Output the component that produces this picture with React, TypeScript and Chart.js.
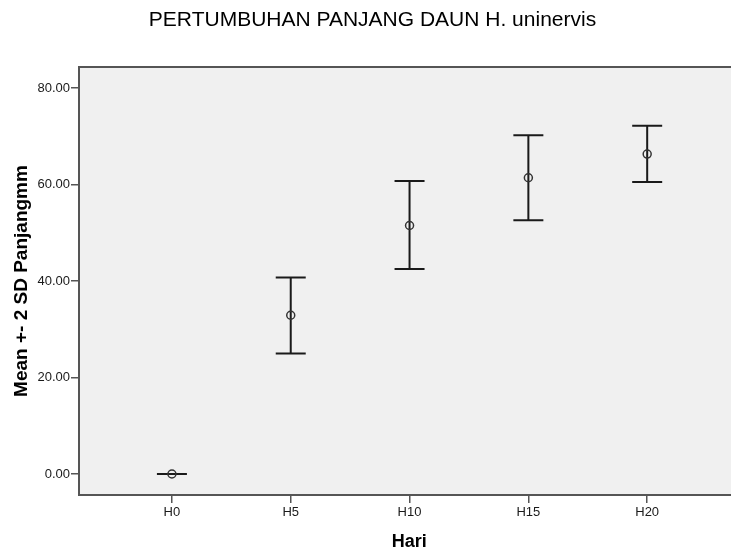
import React, { useEffect, useRef } from "react";
import { Chart, registerables } from "chart.js";

Chart.register(...registerables);

const categories = ["H0", "H5", "H10", "H15", "H20"];
const means = [0, 32.9, 51.5, 61.4, 66.3];
const lowerBounds = [0, 25.0, 42.5, 52.6, 60.5];
const upperBounds = [0, 40.7, 60.7, 70.2, 72.2];
const yTicks = [0, 20, 40, 60, 80];

const FONT = "'Liberation Sans', Arial, Helvetica, sans-serif";
const INK = "#1a1a1a";
const AXIS = "#555555";
const PLOT_BG = "#f0f0f0";

const plotDecor = {
  id: "plotDecor",
  beforeDraw(chart: any) {
    const { ctx, chartArea } = chart;
    ctx.save();
    ctx.fillStyle = PLOT_BG;
    ctx.fillRect(chartArea.left, chartArea.top, chartArea.right - chartArea.left, chartArea.bottom - chartArea.top);
    ctx.strokeStyle = AXIS;
    ctx.lineWidth = 2;
    ctx.beginPath();
    ctx.moveTo(chartArea.left, chartArea.top);
    ctx.lineTo(chartArea.right, chartArea.top);
    ctx.stroke();
    ctx.restore();
  },
  beforeDatasetsDraw(chart: any) {
    const { ctx } = chart;
    const xs = chart.scales.x;
    const ys = chart.scales.y;
    const half = 15;
    ctx.save();
    ctx.strokeStyle = INK;
    ctx.lineWidth = 2;
    for (let i = 0; i < categories.length; i++) {
      const x = xs.getPixelForValue(i);
      const yl = ys.getPixelForValue(lowerBounds[i]);
      const yu = ys.getPixelForValue(upperBounds[i]);
      ctx.beginPath();
      ctx.moveTo(x, yl);
      ctx.lineTo(x, yu);
      ctx.moveTo(x - half, yl);
      ctx.lineTo(x + half, yl);
      ctx.moveTo(x - half, yu);
      ctx.lineTo(x + half, yu);
      ctx.stroke();
    }
    ctx.restore();
  },
};

export default function App() {
  const ref = useRef<HTMLCanvasElement | null>(null);

  useEffect(() => {
    if (!ref.current) return;
    const chart = new Chart(ref.current, {
      type: "scatter",
      data: {
        datasets: [
          {
            data: means.map((m, i) => ({ x: i, y: m })),
            pointStyle: "circle",
            pointRadius: 4,
            pointBorderWidth: 1.5,
            pointBorderColor: "#333333",
            pointBackgroundColor: "rgba(0,0,0,0)",
            showLine: false,
          },
        ],
      },
      options: {
        animation: false,
        responsive: false,
        maintainAspectRatio: false,
        layout: { padding: 0 },
        plugins: {
          legend: { display: false },
          tooltip: { enabled: false },
          title: {
            display: true,
            text: "PERTUMBUHAN PANJANG DAUN H. uninervis",
            color: "#000000",
            font: { family: FONT, size: 21, weight: "normal", lineHeight: 1.2 },
            padding: { top: 8, bottom: 33.8 },
          },
        },
        scales: {
          x: {
            type: "linear",
            min: -0.782,
            max: 4.777,
            afterBuildTicks: (scale: any) => {
              scale.ticks = categories.map((_, i) => ({ value: i }));
            },
            afterFit: (scale: any) => {
              scale.height = 58;
            },
            ticks: {
              color: INK,
              font: { family: FONT, size: 13 },
              padding: 2,
              maxRotation: 0,
              autoSkip: false,
              callback: (v: any) => categories[Math.round(Number(v))] ?? "",
            },
            grid: { drawOnChartArea: false, drawTicks: true, tickLength: 8, color: AXIS, lineWidth: 1.5 },
            border: { display: true, color: AXIS, width: 2 },
            title: {
              display: true,
              text: "Hari",
              color: "#000000",
              font: { family: FONT, size: 18, weight: "bold", lineHeight: 1.2 },
              padding: { top: 0, bottom: 0 },
            },
          },
          y: {
            type: "linear",
            min: -4.35,
            max: 84.35,
            afterBuildTicks: (scale: any) => {
              scale.ticks = yTicks.map((v) => ({ value: v }));
            },
            afterFit: (scale: any) => {
              scale.width = 79;
            },
            ticks: {
              color: INK,
              font: { family: FONT, size: 13 },
              padding: 1,
              callback: (v: any) => Number(v).toFixed(2),
            },
            grid: { drawOnChartArea: false, drawTicks: true, tickLength: 8, color: AXIS, lineWidth: 1.5 },
            border: { display: true, color: AXIS, width: 2 },
            title: {
              display: true,
              text: "Mean +- 2 SD Panjangmm",
              color: "#000000",
              font: { family: FONT, size: 19, weight: "bold", lineHeight: 1.2 },
              padding: { top: 10, bottom: 0 },
            },
          },
        },
      },
      plugins: [plotDecor],
    });
    return () => chart.destroy();
  }, []);

  return (
    <div style={{ position: "fixed", left: 0, top: 0, width: 731, height: 553, overflow: "hidden", background: "#ffffff" }}>
      <canvas ref={ref} width={745} height={553} style={{ display: "block", width: 745, height: 553 }} />
    </div>
  );
}
